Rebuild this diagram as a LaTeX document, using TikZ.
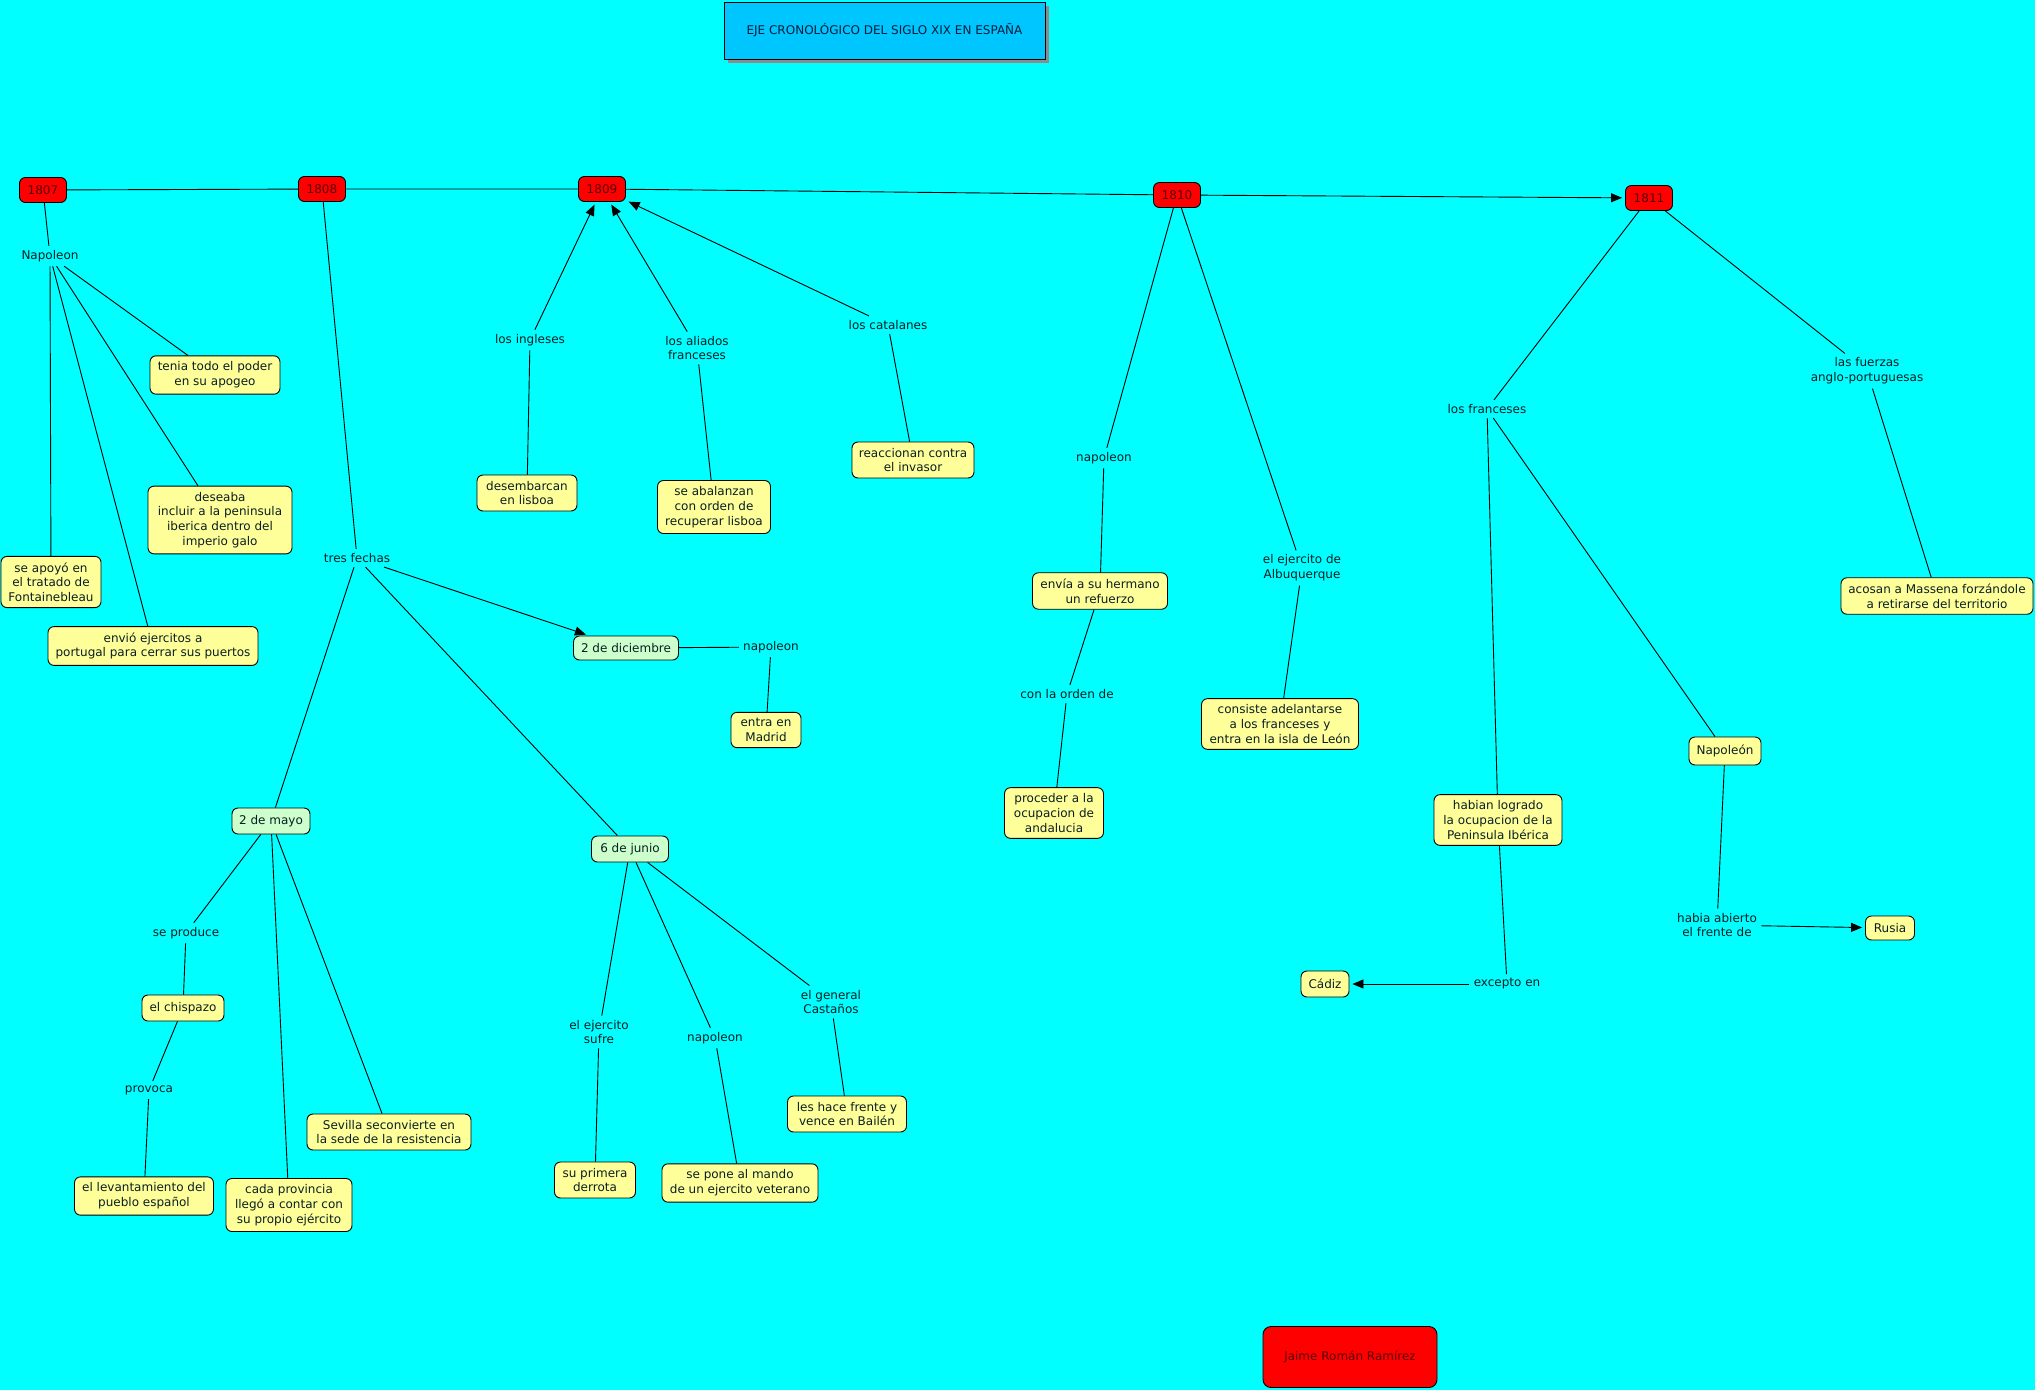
\documentclass[tikz,border=0pt]{standalone}
\usepackage{fontspec}
\setmainfont{DejaVu Sans}
\usetikzlibrary{arrows.meta,shadows}
\definecolor{fondo}{RGB}{0,255,255}
\definecolor{celeste}{RGB}{0,198,255}
\definecolor{amarillo}{RGB}{255,255,153}
\definecolor{verde}{RGB}{204,255,204}
\definecolor{rojo}{RGB}{255,0,0}
\definecolor{granate}{RGB}{90,0,0}
\definecolor{tinta}{RGB}{10,30,35}
\definecolor{azultinta}{RGB}{0,30,60}

\begin{document}
\begin{tikzpicture}[x=1pt,y=-1pt,line width=0.9pt,
every node/.style={font=\fontsize{12}{14.7}\selectfont, align=center, text=tinta},
anio/.style={draw, rounded corners=6pt, fill=rojo, text=granate, minimum width=47pt, minimum height=25pt, inner xsep=4pt},
conc/.style={draw, rounded corners=6pt, fill=amarillo, minimum height=26pt, inner xsep=5pt, inner ysep=6pt},
fecha/.style={draw, rounded corners=6pt, fill=verde, minimum height=26pt, inner xsep=5pt},
enlace/.style={inner sep=4pt},
flecha/.style={-{Triangle[length=11pt,width=9pt]}, shorten >=3pt}]
\fill[fondo] (0,0) rectangle (2035,1390);
\useasboundingbox (0,0) rectangle (2035,1390);

\node[draw, fill=celeste, text=azultinta, minimum width=321pt, minimum height=57pt,
  drop shadow={shadow xshift=4pt, shadow yshift=-4pt, fill=black!45, opacity=1}] (T) at (884.5,30.5)
  {EJE CRONOLÓGICO DEL SIGLO XIX EN ESPAÑA};

\node[anio] (Y7) at (43,190) {1807};
\node[anio] (Y8) at (322,189) {1808};
\node[anio] (Y9) at (602,189) {1809};
\node[anio] (Y10) at (1177,195) {1810};
\node[anio] (Y11) at (1649,198) {1811};

\node[enlace] (N1) at (50,256) {Napoleon};
\node[conc, minimum width=130pt] (C1) at (215,375) {tenia todo el poder\\en su apogeo};
\node[conc, minimum width=144pt] (C2) at (220,520) {deseaba\\incluir a la peninsula\\iberica dentro del\\imperio galo};
\node[conc, minimum width=100pt] (C3) at (51,582) {se apoyó en\\el tratado de\\Fontainebleau};
\node[conc, minimum width=210pt] (C4) at (153,646) {envió ejercitos a\\portugal para cerrar sus puertos};

\node[enlace] (L1) at (530,340) {los ingleses};
\node[conc, minimum width=100pt] (C5) at (527,493) {desembarcan\\en lisboa};
\node[enlace] (L2) at (697,348) {los aliados\\franceses};
\node[conc, minimum width=113pt] (C6) at (714,507) {se abalanzan\\con orden de\\recuperar lisboa};
\node[enlace] (L3) at (888,325) {los catalanes};
\node[conc, minimum width=122pt] (C7) at (913,460) {reaccionan contra\\el invasor};

\node[enlace] (L4) at (357,558) {tres fechas};
\node[fecha, minimum width=105pt, minimum height=24pt] (D1) at (626,648) {2 de diciembre};
\node[enlace] (L5) at (771,647) {napoleon};
\node[conc, minimum width=70pt] (C8) at (766,730) {entra en\\Madrid};

\node[fecha, minimum width=78pt] (D2) at (271,821) {2 de mayo};
\node[enlace] (L6) at (186,933) {se produce};
\node[conc, minimum width=82pt] (C9) at (183,1008) {el chispazo};
\node[enlace] (L7) at (149,1090) {provoca};
\node[conc, minimum width=139pt] (C10) at (144,1196) {el levantamiento del\\pueblo español};
\node[conc, minimum width=126pt] (C11) at (289,1205) {cada provincia\\llegó a contar con\\su propio ejército};
\node[conc, minimum width=164pt] (C12) at (389,1132) {Sevilla seconvierte en\\la sede de la resistencia};

\node[fecha, minimum width=77pt] (D3) at (630,849) {6 de junio};
\node[enlace] (L8) at (599,1032) {el ejercito\\sufre};
\node[conc, minimum width=81pt] (C13) at (595,1180) {su primera\\derrota};
\node[enlace] (L9) at (715,1038) {napoleon};
\node[conc, minimum width=156pt] (C14) at (740,1183) {se pone al mando\\de un ejercito veterano};
\node[enlace] (L10) at (831,1002) {el general\\Castaños};
\node[conc, minimum width=119pt] (C15) at (847,1114) {les hace frente y\\vence en Bailén};

\node[enlace] (L11) at (1104,458) {napoleon};
\node[conc, minimum width=135pt] (C16) at (1100,591) {envía a su hermano\\un refuerzo};
\node[enlace] (L12) at (1067,694) {con la orden de};
\node[conc, minimum width=99pt] (C17) at (1054,813) {proceder a la\\ocupacion de\\andalucia};
\node[enlace] (L13) at (1302,568) {el ejercito de\\Albuquerque};
\node[conc, minimum width=157pt] (C18) at (1280,724) {consiste adelantarse\\a los franceses y\\entra en la isla de León};

\node[enlace] (L14) at (1487,409) {los franceses};
\node[enlace] (L15) at (1867,371) {las fuerzas\\anglo-portuguesas};
\node[conc, minimum width=192pt] (C19) at (1937,596) {acosan a Massena forzándole\\a retirarse del territorio};
\node[conc, minimum width=128pt] (C20) at (1498,820) {habian logrado\\la ocupacion de la\\Peninsula Ibérica};
\node[conc, minimum width=72pt, minimum height=28pt] (C21) at (1725,751) {Napoleón};
\node[enlace] (L16) at (1507,984) {excepto en};
\node[conc, minimum width=48pt] (C22) at (1325,984) {Cádiz};
\node[enlace] (L17) at (1717,925) {habia abierto\\el frente de};
\node[conc, minimum width=49pt, minimum height=24pt] (C23) at (1890,928) {Rusia};

\node[anio, rounded corners=8pt, minimum width=174pt, minimum height=61pt] (A) at (1350,1357) {Jaime Román Ramírez};

\draw (Y7)--(Y8)--(Y9)--(Y10);
\draw[flecha] (Y10)--(Y11);
\draw (Y7)--(N1);
\draw (N1)--(C1);
\draw (N1)--(C2);
\draw (N1)--(C3);
\draw (N1)--(C4);
\draw (C5)--(L1);
\draw[flecha] (L1)--(Y9);
\draw (C6)--(L2);
\draw[flecha] (L2)--(Y9);
\draw (C7)--(L3);
\draw[flecha] (L3)--(Y9);
\draw (Y8)--(L4);
\draw[flecha] (L4)--(D1);
\draw (D1)--(L5)--(C8);
\draw (L4)--(D2);
\draw (D2)--(L6)--(C9)--(L7)--(C10);
\draw (D2)--(C11);
\draw (D2)--(C12);
\draw (L4)--(D3);
\draw (D3)--(L8)--(C13);
\draw (D3)--(L9)--(C14);
\draw (D3)--(L10)--(C15);
\draw (Y10)--(L11)--(C16)--(L12)--(C17);
\draw (Y10)--(L13)--(C18);
\draw (Y11)--(L14);
\draw (Y11)--(L15)--(C19);
\draw (L14)--(C20)--(L16);
\draw[flecha] (L16)--(C22);
\draw (L14)--(C21)--(L17);
\draw[flecha] (L17)--(C23);
\end{tikzpicture}
\end{document}
